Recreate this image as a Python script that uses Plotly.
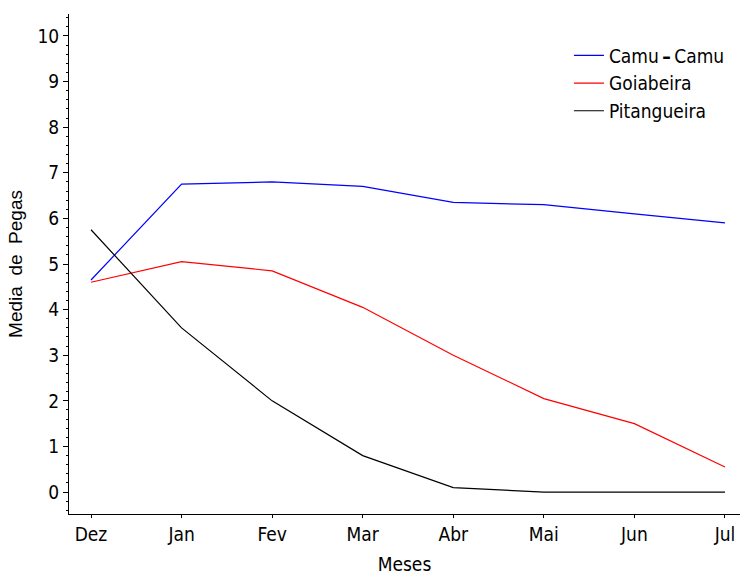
import plotly.graph_objects as go

meses = ["Dez", "Jan", "Fev", "Mar", "Abr", "Mai", "Jun", "Jul"]
camu_camu = [4.65, 6.75, 6.8, 6.7, 6.35, 6.3, 6.1, 5.9]
goiabeira = [4.6, 5.05, 4.85, 4.05, 3.0, 2.05, 1.5, 0.55]
pitangueira = [5.75, 3.6, 2.0, 0.8, 0.1, 0.0, 0.0, 0.0]

series = [("Camu\u2009<b>\u2013</b>\u2009Camu", camu_camu, "#0000ff"),
          ("Goiabeira", goiabeira, "#ff0000"),
          ("Pitangueira", pitangueira, "#000000")]

xi = list(range(len(meses)))
fig = go.Figure()
for name, vals, col in series:
    fig.add_trace(go.Scatter(x=xi, y=vals, mode="lines", name=name,
                             line=dict(color=col, width=1.2)))

narrow = "DejaVu Sans Condensed"
fig.update_layout(
    width=743, height=575,
    margin=dict(l=69, r=3, t=14, b=61, autoexpand=False),
    plot_bgcolor="white", paper_bgcolor="white",
    font=dict(family=narrow, size=19, color="black"),
    showlegend=True,
    legend=dict(x=0.985, y=0.955, xanchor="right", yanchor="top",
                bgcolor="rgba(0,0,0,0)", font=dict(family=narrow, size=19),
                itemwidth=30, tracegroupgap=0),
    xaxis=dict(range=[-0.243, 7.166], tickmode="array", tickvals=xi, ticktext=meses,
               showline=True, linecolor="black", linewidth=1, ticks="outside",
               ticklen=3, tickcolor="black", showgrid=False, zeroline=False,
               automargin=False,
               title=dict(text="Meses", font=dict(family=narrow, size=19), standoff=13)),
    yaxis=dict(range=[-0.48, 10.48], tickmode="linear", tick0=0, dtick=1,
               showline=True, linecolor="black", linewidth=1, ticks="outside",
               ticklen=5, tickcolor="black", showgrid=False, zeroline=False,
               automargin=False,
               minor=dict(dtick=0.2, ticks="outside", ticklen=2, tickcolor="black"),
               title=dict(text="Media  de  Pegas", font=dict(family="Liberation Sans, Arial", size=19), standoff=9)),
)
fig.write_html("out.html")
